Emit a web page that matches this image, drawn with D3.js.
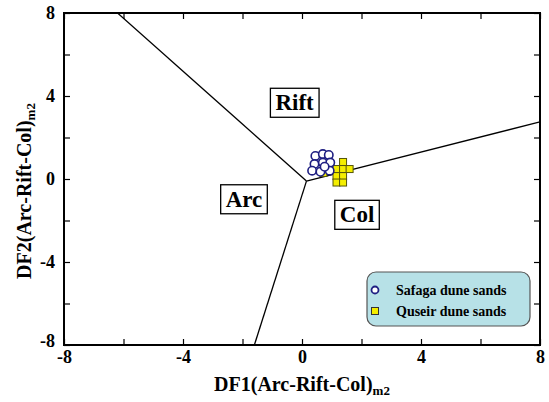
<!DOCTYPE html>
<html>
<head>
<meta charset="utf-8">
<script src="https://cdn.jsdelivr.net/npm/d3@7"></script>
<style>
  html, body { margin: 0; padding: 0; background: #fff; }
  svg { display: block; }
</style>
</head>
<body>
<svg id="chart" width="549" height="402"></svg>
<script>
// Tectonic discrimination diagram: DF1 vs DF2 (Arc-Rift-Col)m2

const majorTicks = [-8, -4, 0, 4, 8];
const minorTicks = [-8, -6, -4, -2, 0, 2, 4, 6, 8];

// Field boundaries: a triple junction with three branches
const junction = [0.15, -0.1];
const boundaryEnds = [[-6.2, 8], [-1.6, -8], [8, 2.75]];

// Field names and the point each label box is centred on
const fieldNames = ["Rift", "Arc", "Col"];
const fieldX = [-0.25, -1.95, 1.85];
const fieldY = [3.7, -0.95, -1.7];

// Safaga dune sands (DF1, DF2)
const safagaX = [0.45, 0.70, 0.90, 0.42, 0.70, 0.95, 0.34, 0.62, 0.93, 0.76];
const safagaY = [1.11, 1.20, 1.16, 0.72, 0.79, 0.79, 0.40, 0.35, 0.40, 0.59];

// Quseir dune sands (DF1, DF2)
const quseirX = [1.38, 1.16, 1.38, 1.60, 1.16, 1.38, 1.16, 1.38, 0.72];
const quseirY = [0.82, 0.48, 0.48, 0.48, 0.14, 0.14, -0.17, -0.17, 0.29];

const legendLabels = ["Safaga dune sands", "Quseir dune sands"];

const FONT = "'Liberation Serif', 'Times New Roman', Times, serif";

const svg = d3.select("#chart");
const plotLeft = 64, plotRight = 540, plotTop = 13, plotBottom = 345;

const x = d3.scaleLinear().domain([-8, 8]).range([plotLeft, plotRight]);
const y = d3.scaleLinear().domain([-8, 8]).range([plotBottom, plotTop]);

svg.append("defs").append("clipPath").attr("id", "plotClip")
  .append("rect").attr("x", plotLeft).attr("y", plotTop)
  .attr("width", plotRight - plotLeft).attr("height", plotBottom - plotTop);

const tickLen = 6;
const fmt = d => majorTicks.includes(d) ? (d < 0 ? "-" + Math.abs(d) : String(d)) : "";

function styleText(sel, size) {
  sel.attr("font-family", null)
    .style("font-family", FONT).style("font-weight", "bold")
    .style("font-size", size + "px").attr("fill", "#000");
}

// Bottom axis: inward ticks, labels at major values
const xAxisB = d3.axisBottom(x).tickValues(minorTicks).tickSizeInner(-tickLen).tickSizeOuter(0).tickFormat(fmt);
const gxb = svg.append("g").attr("transform", `translate(0,${plotBottom})`).call(xAxisB);
gxb.attr("font-family", null);
gxb.selectAll("text").attr("y", 5).attr("dy", "0.71em").call(styleText, 18);

// Top axis: ticks only
const xAxisT = d3.axisTop(x).tickValues(minorTicks).tickSizeInner(-tickLen).tickSizeOuter(0).tickFormat("");
svg.append("g").attr("transform", `translate(0,${plotTop})`).call(xAxisT);

// Left axis
const yAxisL = d3.axisLeft(y).tickValues(minorTicks).tickSizeInner(-tickLen).tickSizeOuter(0).tickFormat(fmt);
const gyl = svg.append("g").attr("transform", `translate(${plotLeft},0)`).call(yAxisL);
gyl.attr("font-family", null);
gyl.selectAll("text").attr("x", -9).call(styleText, 18);
gyl.selectAll(".tick").filter(d => d === -8).select("text").attr("dy", "0.1em");

// Right axis: ticks only
const yAxisR = d3.axisRight(y).tickValues(minorTicks).tickSizeInner(-tickLen).tickSizeOuter(0).tickFormat("");
svg.append("g").attr("transform", `translate(${plotRight},0)`).call(yAxisR);

svg.selectAll(".domain").remove();
svg.selectAll(".tick line").attr("stroke", "#000").attr("stroke-width", 1.2);

// Plot frame
svg.append("rect").attr("x", plotLeft).attr("y", plotTop)
  .attr("width", plotRight - plotLeft).attr("height", plotBottom - plotTop)
  .attr("fill", "none").attr("stroke", "#000").attr("stroke-width", 2);

// Field boundaries
const plot = svg.append("g").attr("clip-path", "url(#plotClip)");
const line = d3.line().x(d => x(d[0])).y(d => y(d[1]));
boundaryEnds.forEach(end => {
  plot.append("path").attr("d", line([junction, end]))
    .attr("fill", "none").attr("stroke", "#000").attr("stroke-width", 1.3);
});

// Field labels in boxes
fieldNames.forEach((name, i) => {
  const g = svg.append("g");
  const t = g.append("text").attr("x", x(fieldX[i])).attr("y", y(fieldY[i]))
    .attr("text-anchor", "middle").attr("dy", "0.35em").text(name).call(styleText, 23);
  const bb = t.node().getBBox();
  g.insert("rect", "text")
    .attr("x", bb.x - 5).attr("y", bb.y - 2)
    .attr("width", bb.width + 10).attr("height", bb.height + 4)
    .attr("fill", "#fff").attr("stroke", "#000").attr("stroke-width", 1.3);
});

const squareSize = 7;
const squareFill = "#f4ee00";
const squareStroke = "#55550a";
const circleStroke = "#1f1f82";

// Quseir dune sands (squares)
svg.append("g").selectAll("rect").data(d3.range(quseirX.length)).join("rect")
  .attr("x", i => x(quseirX[i]) - squareSize / 2)
  .attr("y", i => y(quseirY[i]) - squareSize / 2)
  .attr("width", squareSize).attr("height", squareSize)
  .attr("fill", squareFill).attr("stroke", squareStroke).attr("stroke-width", 1);

// Safaga dune sands (open circles)
svg.append("g").selectAll("circle").data(d3.range(safagaX.length)).join("circle")
  .attr("cx", i => x(safagaX[i])).attr("cy", i => y(safagaY[i]))
  .attr("r", 4.2)
  .attr("fill", "#fff").attr("stroke", circleStroke).attr("stroke-width", 1.6);

// Axis titles with subscript
const xt = svg.append("text").attr("x", (plotLeft + plotRight) / 2).attr("y", 391)
  .attr("text-anchor", "middle").call(styleText, 20);
xt.append("tspan").text("DF1(Arc-Rift-Col)");
xt.append("tspan").attr("dy", 4).style("font-size", "13px").text("m2");

const yt = svg.append("text")
  .attr("transform", `translate(31,${(plotTop + plotBottom) / 2 + 12}) rotate(-90)`)
  .attr("text-anchor", "middle").call(styleText, 20);
yt.append("tspan").text("DF2(Arc-Rift-Col)");
yt.append("tspan").attr("dy", 4).style("font-size", "13px").text("m2");

// Legend
const lg = svg.append("g");
lg.append("rect").attr("x", 367).attr("y", 272).attr("width", 163).attr("height", 54)
  .attr("rx", 9).attr("ry", 9)
  .attr("fill", "#b7e1e7").attr("stroke", "#555").attr("stroke-width", 1.2);
lg.append("circle").attr("cx", 375).attr("cy", 290).attr("r", 3.5)
  .attr("fill", "#fff").attr("stroke", circleStroke).attr("stroke-width", 1.8);
lg.append("rect").attr("x", 375 - 3.5).attr("y", 311 - 3.5).attr("width", 7).attr("height", 7)
  .attr("fill", squareFill).attr("stroke", "#333").attr("stroke-width", 1);
legendLabels.forEach((lab, i) => {
  lg.append("text").attr("x", 396).attr("y", 290 + i * 21).attr("dy", "0.35em")
    .text(lab).call(styleText, 14);
});
</script>
</body>
</html>
